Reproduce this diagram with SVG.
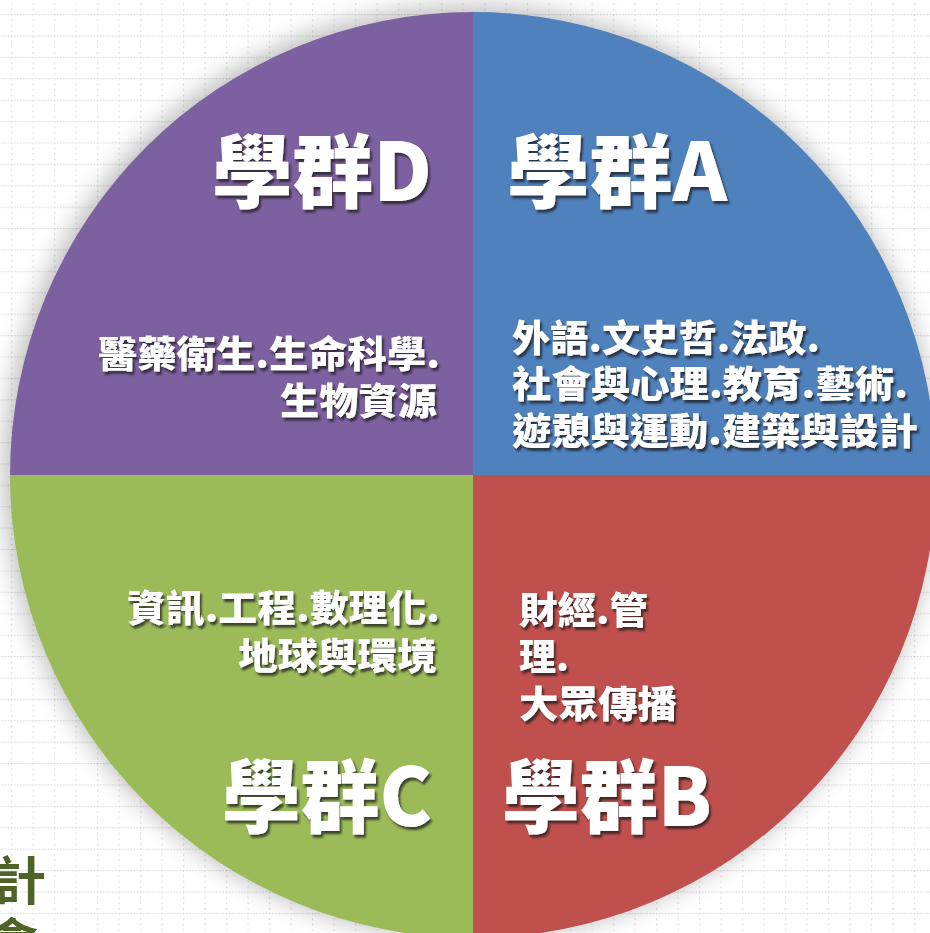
<svg xmlns="http://www.w3.org/2000/svg" width="930" height="933" viewBox="0 0 930 933">
<defs>
<pattern id="grid" patternUnits="userSpaceOnUse" x="11" y="14" width="21.5" height="21.4">
<line x1="0" y1="0.6" x2="21.5" y2="0.6" stroke="#d9d9d9" stroke-width="1.2" stroke-dasharray="1.5,1.5"/>
<line x1="0.6" y1="0" x2="0.6" y2="21.4" stroke="#d9d9d9" stroke-width="1.2" stroke-dasharray="1.5,4"/>
</pattern>
<filter id="glow" x="-10%" y="-10%" width="120%" height="120%">
<feGaussianBlur stdDeviation="12"/>
</filter>
<filter id="ts" x="-5%" y="-20%" width="115%" height="150%">
<feDropShadow dx="2" dy="3" stdDeviation="1.3" flood-color="#1e1e1e" flood-opacity="0.75"/>
</filter>
<style>
.q{stroke:none}
.t{font-family:"Noto Sans CJK TC","Noto Sans CJK SC",sans-serif;font-weight:900;fill:#ffffff;filter:url(#ts)}
.title{font-size:80px}
.desc{font-size:37px}
.side{font-family:"Noto Sans CJK TC","Noto Sans CJK SC",sans-serif;font-weight:bold;fill:#4f6228;font-size:52px}
</style>
</defs>
<rect x="0" y="0" width="930" height="933" fill="#ffffff"/>
<rect x="0" y="0" width="930" height="933" fill="url(#grid)"/>
<text class="side" x="-6" y="900">計</text>
<text class="side" x="-14" y="962">會</text>
<circle cx="470" cy="472" r="466" fill="#000000" opacity="0.26" filter="url(#glow)"/>
<g id="quadD"><path class="q" d="M473,475 L10,475 A463,463 0 0 1 473,12 Z" fill="#7d60a0"/>
<text class="t title" x="432" y="201" text-anchor="end" textLength="220" lengthAdjust="spacingAndGlyphs">學群D</text>
<text class="t desc" x="440" y="368" text-anchor="end" textLength="342" lengthAdjust="spacingAndGlyphs">醫藥衛生.生命科學.</text>
<text class="t desc" x="437" y="415" text-anchor="end" textLength="157" lengthAdjust="spacingAndGlyphs">生物資源</text>
</g>
<g id="quadA"><path class="q" d="M473,475 L473,12 A463,463 0 0 1 936,475 Z" fill="#4f81bd"/>
<text class="t title" x="507" y="201" textLength="220" lengthAdjust="spacingAndGlyphs">學群A</text>
<text class="t desc" x="512" y="352" textLength="308" lengthAdjust="spacingAndGlyphs">外語.文史哲.法政.</text>
<text class="t desc" x="512" y="398" textLength="396" lengthAdjust="spacingAndGlyphs">社會與心理.教育.藝術.</text>
<text class="t desc" x="512" y="445" textLength="406" lengthAdjust="spacingAndGlyphs">遊憩與運動.建築與設計</text>
</g>
<g id="quadB"><path class="q" d="M473,475 L936,475 A463,463 0 0 1 473,938 Z" fill="#c0504d"/>
<text class="t desc" x="519" y="624" textLength="129" lengthAdjust="spacingAndGlyphs">財經.管</text>
<text class="t desc" x="519" y="671">理.</text>
<text class="t desc" x="519" y="718" textLength="158" lengthAdjust="spacingAndGlyphs">大眾傳播</text>
<text class="t title" x="502" y="826" textLength="210" lengthAdjust="spacingAndGlyphs">學群B</text>
</g>
<g id="quadC"><path class="q" d="M473,475 L473,938 A463,463 0 0 1 10,475 Z" fill="#9bbb59"/>
<text class="t desc" x="440" y="622" text-anchor="end" textLength="313" lengthAdjust="spacingAndGlyphs">資訊.工程.數理化.</text>
<text class="t desc" x="437" y="670" text-anchor="end" textLength="199" lengthAdjust="spacingAndGlyphs">地球與環境</text>
<text class="t title" x="432" y="826" text-anchor="end" textLength="210" lengthAdjust="spacingAndGlyphs">學群C</text>
</g>
<g id="connectors"/>
</svg>
